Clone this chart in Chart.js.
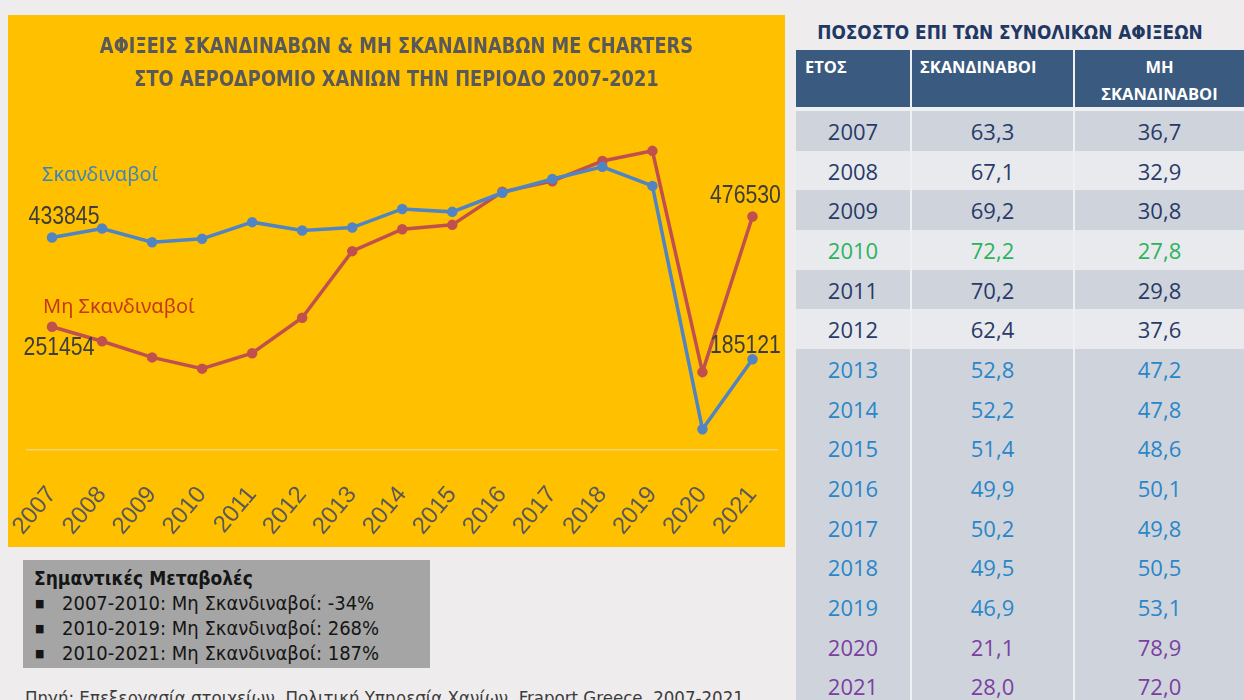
<!DOCTYPE html>
<html>
<head>
<meta charset="utf-8">
<script src="https://cdn.jsdelivr.net/npm/chart.js@4.4.0/dist/chart.umd.min.js"></script>
<style>
html, body { margin: 0; padding: 0; }
body { width: 1244px; height: 700px; background: #eeeced; position: relative; overflow: hidden; font-family: 'Open Sans', sans-serif; }
#panel { position: absolute; left: 8px; top: 15px; width: 777px; height: 532px; background: #ffc000; }
#chart { position: absolute; left: 0; top: 0; }
.title { position: absolute; left: 0; width: 777px; text-align: center; font-family: 'DejaVu Sans Condensed', sans-serif; font-weight: bold; font-size: 22px; color: #595959; line-height: 1; transform: scaleX(0.9); }
.serie { position: absolute; font-family: 'Noto Sans', sans-serif; font-size: 20px; line-height: 1; }
#notes { position: absolute; left: 23px; top: 560px; width: 407px; height: 108px; background: #a5a5a5; font-family: 'DejaVu Sans Condensed', sans-serif; color: #151515; }
#notes .head { position: absolute; left: 11px; top: 7px; font-size: 19px; font-weight: bold; }
#notes .row { position: absolute; left: 12px; font-size: 20px; white-space: nowrap; }
#notes .row span { display: inline-block; width: 27px; font-size: 11px; vertical-align: 3px; }
#source { position: absolute; left: 25px; top: 687px; font-family: 'DejaVu Sans Condensed', sans-serif; font-size: 18.5px; color: #3c3c3c; white-space: nowrap; }
#tabletitle { position: absolute; left: 796px; width: 428px; top: 22px; text-align: center; font-family: 'DejaVu Sans Condensed', sans-serif; font-weight: bold; font-size: 20px; color: #1f3864; line-height: 1; transform: scaleX(0.94); }
#share { position: absolute; left: 796px; top: 50px; border-collapse: collapse; }
#share th { background: #3b5a80; color: #fff; font-family: 'Open Sans', sans-serif; font-weight: bold; font-size: 16.5px; height: 57px; padding: 3px 0 0 0; box-sizing: border-box; vertical-align: top; line-height: 27px; }
#share td { font-family: 'Open Sans', sans-serif; font-size: 22px; text-align: center; height: 39.7px; padding: 0; }
#share .c2, #share .c3 { border-left: 2px solid #eef0f4; }
#share tr.gap td { height: 4px; background: #eef0f4; }
</style>
</head>
<body>
<div id="panel">
  <canvas id="chart" width="777" height="532"></canvas>
  <div class="title" style="top:20px">ΑΦΙΞΕΙΣ ΣΚΑΝΔΙΝΑΒΩΝ &amp; ΜΗ ΣΚΑΝΔΙΝΑΒΩΝ ΜΕ CHARTERS</div>
  <div class="title" style="top:53px">ΣΤΟ ΑΕΡΟΔΡΟΜΙΟ ΧΑΝΙΩΝ ΤΗΝ ΠΕΡΙΟΔΟ 2007-2021</div>
  <div class="serie" style="left:34px; top:149px; color:#3f85b5">Σκανδιναβοί</div>
  <div class="serie" style="left:35px; top:281px; color:#c4391d">Μη Σκανδιναβοί</div>
</div>

<div id="notes">
  <div class="head">Σημαντικές Μεταβολές</div>
  <div class="row" style="top:31px"><span>■</span>2007-2010: Μη Σκανδιναβοί: -34%</div>
  <div class="row" style="top:56px"><span>■</span>2010-2019: Μη Σκανδιναβοί: 268%</div>
  <div class="row" style="top:81px"><span>■</span>2010-2021: Μη Σκανδιναβοί: 187%</div>
</div>
<div id="source">Πηγή: Επεξεργασία στοιχείων, Πολιτική Υπηρεσία Χανίων, Fraport Greece, 2007-2021</div>

<div id="tabletitle">ΠΟΣΟΣΤΟ ΕΠΙ ΤΩΝ ΣΥΝΟΛΙΚΩΝ ΑΦΙΞΕΩΝ</div>
<table id="share">
  <thead>
    <tr>
      <th style="width:115px; text-align:left; padding-left:9px">ΕΤΟΣ</th>
      <th class="c2" style="width:163px; text-align:left; padding-left:8px">ΣΚΑΝΔΙΝΑΒΟΙ</th>
      <th class="c3" style="width:170px; text-align:center">ΜΗ<br>ΣΚΑΝΔΙΝΑΒΟΙ</th>
    </tr>
  </thead>
  <tbody id="rows"></tbody>
</table>

<script>
// arrivals with charters at Chania airport
const years = ['2007', '2008', '2009', '2010', '2011', '2012', '2013', '2014', '2015', '2016', '2017', '2018', '2019', '2020', '2021'];
const scandinavians = [433845, 452000, 424000, 431000, 465000, 448000, 454000, 492000, 486000, 525000, 553000, 578000, 539000, 42500, 185121];
const nonScandinavians = [251454, 222000, 189000, 166000, 197400, 270000, 405800, 450500, 459500, 527000, 548600, 589700, 610500, 159000, 476530];

// share of total arrivals (table)
const shareScand = ['63,3', '67,1', '69,2', '72,2', '70,2', '62,4', '52,8', '52,2', '51,4', '49,9', '50,2', '49,5', '46,9', '21,1', '28,0'];
const shareNonScand = ['36,7', '32,9', '30,8', '27,8', '29,8', '37,6', '47,2', '47,8', '48,6', '50,1', '49,8', '50,5', '53,1', '78,9', '72,0'];

const rowColor = (y) => {
    if (y === '2010') return '#2bb35c';
    if (y >= '2020') return '#7b3fa0';
    if (y >= '2013') return '#2a86c8';
    return '#283a68';
};

let tbody = document.getElementById('rows');
let gap = document.createElement('tr');
gap.className = 'gap';
gap.innerHTML = '<td></td><td></td><td></td>';
tbody.appendChild(gap);
years.forEach((y, i) => {
    let tr = document.createElement('tr');
    let dark = i >= 6 || i % 2 === 0;
    tr.style.background = dark ? '#cfd4dc' : '#e8eaee';
    tr.style.color = rowColor(y);
    tr.innerHTML = `<td>${y}</td><td class="c2">${shareScand[i]}</td><td class="c3">${shareNonScand[i]}</td>`;
    tbody.appendChild(tr);
});

const valueLabels = {
    id: 'valueLabels',
    afterDatasetsDraw(chart) {
        let ctx = chart.ctx;
        let last = years.length - 1;
        // [dataset, index, dx, dy]
        let marks = [[0, 0, 12, -20], [1, 0, 7, 21], [0, last, -7, -13], [1, last, -7, -20]];
        ctx.save();
        ctx.font = '25px "Liberation Sans"';
        ctx.fillStyle = '#3d3d3d';
        ctx.textAlign = 'center';
        ctx.textBaseline = 'middle';
        marks.forEach(([ds, i, dx, dy]) => {
            let pt = chart.getDatasetMeta(ds).data[i];
            ctx.save();
            ctx.translate(pt.x + dx, pt.y + dy);
            ctx.scale(0.85, 1);
            ctx.fillText(String(chart.data.datasets[ds].data[i]), 0, 0);
            ctx.restore();
        });
        ctx.restore();
    }
};

new Chart(document.getElementById('chart').getContext('2d'), {
    type: 'line',
    data: {
        labels: years,
        datasets: [{
            label: 'Σκανδιναβοί',
            data: scandinavians,
            borderColor: '#5084c2',
            backgroundColor: '#5084c2',
            borderWidth: 3.5,
            pointRadius: 3.5,
            tension: 0
        }, {
            label: 'Μη Σκανδιναβοί',
            data: nonScandinavians,
            borderColor: '#c0504d',
            backgroundColor: '#c0504d',
            borderWidth: 3.5,
            pointRadius: 3.5,
            tension: 0
        }]
    },
    options: {
        responsive: false,
        animation: false,
        layout: { padding: { left: 19, right: 5, top: 92, bottom: 0 } },
        plugins: { legend: { display: false }, tooltip: { enabled: false } },
        scales: {
            x: {
                offset: true,
                grid: { display: false, drawTicks: false },
                border: { display: true, color: '#f3d27a', width: 1.5 },
                ticks: {
                    color: '#595959',
                    font: { family: 'Liberation Sans', size: 24 },
                    minRotation: 50,
                    maxRotation: 50,
                    padding: 31
                },
                afterFit: (scale) => {
                    scale.height = 97;
                    scale.paddingLeft = 0;
                    scale.paddingRight = 0;
                }
            },
            y: { display: false, min: 0, max: 700000 }
        }
    },
    plugins: [valueLabels]
});
</script>
</body>
</html>
